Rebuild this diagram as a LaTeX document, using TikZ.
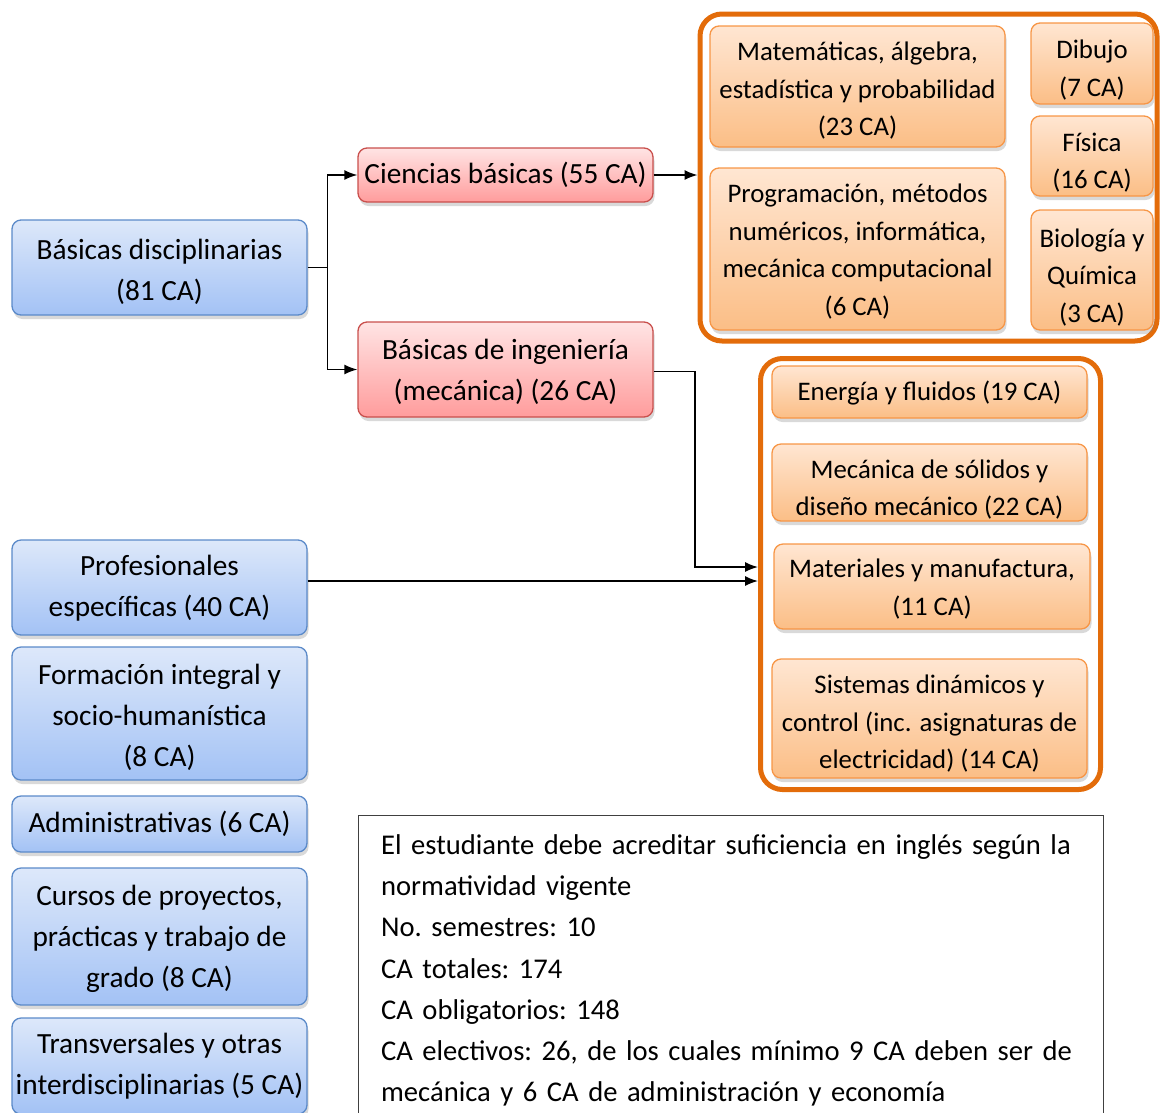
\documentclass[tikz,border=0pt]{standalone}
\usepackage{fontspec}
\setmainfont{Carlito}
\usetikzlibrary{arrows.meta,shadows,calc}
\definecolor{bluetop}{HTML}{DDE8FA}
\definecolor{bluebot}{HTML}{A3C2F5}
\definecolor{bluebd}{HTML}{5B8AC9}
\definecolor{redtop}{HTML}{FFE4E4}
\definecolor{redbot}{HTML}{FF9C9C}
\definecolor{redbd}{HTML}{C9504D}
\definecolor{ortop}{HTML}{FFE6D2}
\definecolor{orbot}{HTML}{FBBE86}
\definecolor{orbd}{HTML}{F79646}
\definecolor{contbd}{HTML}{E36C0A}
\tikzset{
  box/.style={rounded corners=9pt, line width=1.3pt, align=center, inner sep=1pt,
    drop shadow={opacity=0.3, shadow xshift=1.5pt, shadow yshift=-4pt}},
  bluebox/.style={box, draw=bluebd, top color=bluetop, bottom color=bluebot,
    minimum width=295pt, font=\fontsize{29.3}{41}\selectfont, text depth=2.3pt},
  redbox/.style={box, draw=redbd, top color=redtop, bottom color=redbot,
    minimum width=295pt, font=\fontsize{29.3}{41}\selectfont, text depth=2.3pt},
  orbox/.style={box, draw=orbd, top color=ortop, bottom color=orbot,
    font=\fontsize{26.8}{37.5}\selectfont, text depth=1.5pt},
  cont/.style={draw=contbd, line width=5pt, rounded corners=22pt, inner sep=0pt},
  arr/.style={-{Latex[length=13pt,width=10pt]}, line width=1.5pt},
  line/.style={line width=1.5pt}
}
\begin{document}
\begin{tikzpicture}[x=1pt,y=-1pt]
\useasboundingbox (0,0) rectangle (1161,1112);
\clip (0,0) rectangle (1161,1112);
% containers
\node[cont, minimum width=457pt, minimum height=327pt] (c1) at (928.5,177.5) {};
\node[cont, minimum width=340pt, minimum height=431pt] (c2) at (930.5,574) {};
% blue column
\node[bluebox, minimum height=95pt, text height=68pt] (bd) at (159.5,267.5) {Básicas disciplinarias\\(81 CA)};
\node[bluebox, minimum height=95pt, text height=60pt] (pe) at (159.5,587.5) {Profesionales\\específicas (40 CA)};
\node[bluebox, minimum height=133pt, text height=109pt] (fi) at (159.5,713.5) {Formación integral y\\socio-humanística\\(8 CA)};
\node[bluebox, minimum height=56pt, text height=20pt] (ad) at (159.5,824) {Administrativas (6 CA)};
\node[bluebox, minimum height=137pt, text height=105pt] (cp) at (159.5,936.5) {Cursos de proyectos,\\prácticas y trabajo de\\grado (8 CA)};
\node[bluebox, minimum height=96pt, text height=60pt] (tr) at (159.5,1066) {Transversales y otras\\interdisciplinarias (5 CA)};
% red
\node[redbox, minimum height=54pt, text height=20pt] (cb) at (505.5,175) {Ciencias básicas (55 CA)};
\node[redbox, minimum height=95pt, text height=65pt] (bi) at (505.5,369.5) {Básicas de ingeniería\\(mecánica) (26 CA)};
% orange in c1
\node[orbox, minimum width=295pt, minimum height=121pt, text height=100.1pt] (ma) at (857.5,86.5) {Matemáticas, álgebra,\\estadística y probabilidad\\(23 CA)};
\node[orbox, minimum width=295pt, minimum height=162pt, text height=133.6pt] (pr) at (857.5,249) {Programación, métodos\\numéricos, informática,\\mecánica computacional\\(6 CA)};
\node[orbox, minimum width=122pt, minimum height=81pt, text height=66.6pt] (di) at (1092,63.5) {Dibujo\\(7 CA)};
\node[orbox, minimum width=122pt, minimum height=80pt, text height=66.6pt] (fs) at (1092,156) {Física\\(16 CA)};
\node[orbox, minimum width=122pt, minimum height=120pt, text height=106.1pt] (bq) at (1092,270) {Biología y\\Química\\(3 CA)};
% orange in c2
\node[orbox, minimum width=315pt, minimum height=52pt, text height=18.1pt] (en) at (929.5,392) {Energía y fluidos (19 CA)};
\node[orbox, minimum width=315pt, minimum height=77pt, text height=67.6pt] (ms) at (929.5,482.5) {Mecánica de sólidos y\\diseño mecánico (22 CA)};
\node[orbox, minimum width=316pt, minimum height=85pt, text height=58.6pt] (mt) at (932,586.5) {Materiales y manufactura,\\(11 CA)};
\node[orbox, minimum width=315pt, minimum height=119pt, text height=102.1pt] (sd) at (929.5,718.5) {Sistemas dinámicos y\\control (inc. asignaturas de\\electricidad) (14 CA)};
% text box
\node[draw=black!75, line width=1.2pt, anchor=north west, inner xsep=22pt, inner ysep=19pt,
  minimum width=745pt, text width=700pt, align=left, font=\fontsize{28.6}{41.2}\selectfont\frenchspacing] (tb) at (358,815)
  {\makebox[700pt][s]{El estudiante debe acreditar suficiencia en inglés según la}\\
   normatividad vigente\\
   No. semestres: 10\\
   CA totales: 174\\
   CA obligatorios: 148\\
   \makebox[700pt][s]{CA electivos: 26, de los cuales mínimo 9 CA deben ser de}\\
   mecánica y 6 CA de administración y economía};
% connectors
\coordinate (j1) at ([xshift=20pt]bd.east);
\draw[line] (bd.east) -- (j1);
\draw[arr] (j1) |- (cb.west);
\draw[arr] (j1) |- (bi.west);
\draw[arr] (cb.east) -- (cb.east -| c1.west);
\coordinate (k1) at (695,567);
\draw[arr] ([yshift=-2pt]bi.east) -| (k1) -- (k1 -| c2.west);
\coordinate (p1) at ([yshift=6.5pt]pe.east);
\draw[arr] (p1) -- (p1 -| c2.west);
\end{tikzpicture}
\end{document}
